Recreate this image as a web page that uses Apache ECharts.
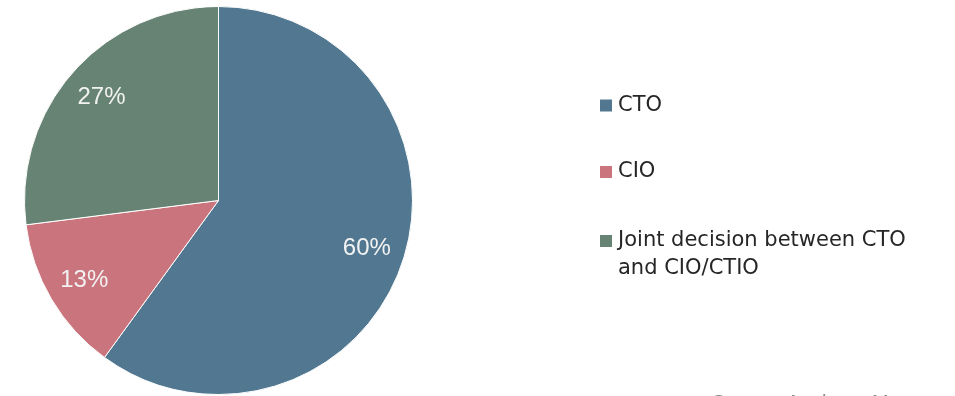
<!DOCTYPE html>
<html>
<head>
<meta charset="utf-8">
<script src="https://cdn.jsdelivr.net/npm/echarts@6/dist/echarts.min.js"></script>
<style>
  html, body { margin: 0; padding: 0; background: #ffffff; }
  #chart { width: 955px; height: 396px; }
</style>
</head>
<body>
<div id="chart"></div>
<script>
// Who decides on the network platform: share of respondents
const categories = ['CTO', 'CIO', 'Joint decision between CTO and CIO/CTIO'];
const shares = [60, 13, 27];
const sliceColors = ['#527891', '#ca747d', '#678373'];
const legendLines = {
  'Joint decision between CTO and CIO/CTIO': ['Joint decision between CTO', 'and CIO/CTIO']
};
const sourceNote = 'Source: Analysys Mason';

const pieCenter = [218.5, 200.5];
const pieRadius = 194;

const sliceData = categories.map((name, i) => ({
  name: name,
  value: shares[i],
  itemStyle: { color: sliceColors[i] }
}));

const legendFont = {
  fontFamily: 'DejaVu Sans',
  fontSize: 21,
  color: '#262626',
  lineHeight: 28
};

function legendFor(name, top) {
  return {
    data: [name],
    orient: 'vertical',
    left: 598,
    top: top,
    padding: 0,
    itemWidth: 14,
    itemHeight: 14,
    icon: 'rect',
    selectedMode: false,
    textStyle: Object.assign({}, legendFont),
    formatter: function (n) {
      // a blank first line keeps the swatch level with the first text line
      return legendLines[n] ? '\n' + legendLines[n].join('\n') : n;
    }
  };
}

const chart = echarts.init(document.getElementById('chart'), null, { renderer: 'canvas' });
chart.setOption({
  backgroundColor: '#ffffff',
  animation: false,
  title: {
    text: sourceNote,
    left: 712,
    top: 393,
    padding: 0,
    textStyle: {
      fontFamily: 'Liberation Sans',
      fontSize: 20,
      fontWeight: 'normal',
      color: '#8c8c8c'
    }
  },
  legend: [
    legendFor(categories[0], 91.5),
    legendFor(categories[1], 158),
    legendFor(categories[2], 199)
  ],
  series: [
    {
      type: 'pie',
      center: pieCenter,
      radius: [0, pieRadius],
      startAngle: 90,
      clockwise: true,
      silent: true,
      label: { show: false },
      labelLine: { show: false },
      itemStyle: { borderColor: '#ffffff', borderWidth: 1 },
      emphasis: { disabled: true },
      data: sliceData
    },
    {
      // label ring: places the percentage labels out toward the rim
      type: 'pie',
      center: pieCenter,
      radius: [112, pieRadius],
      startAngle: 90,
      clockwise: true,
      silent: true,
      z: 3,
      itemStyle: { color: 'transparent', borderWidth: 0 },
      emphasis: { disabled: true },
      label: {
        show: true,
        position: 'inside',
        formatter: '{c}%',
        fontFamily: 'Liberation Sans',
        fontSize: 24,
        color: '#f2f2f2'
      },
      labelLine: { show: false },
      data: categories.map((name, i) => ({ name: name, value: shares[i] }))
    }
  ]
});
</script>
</body>
</html>
